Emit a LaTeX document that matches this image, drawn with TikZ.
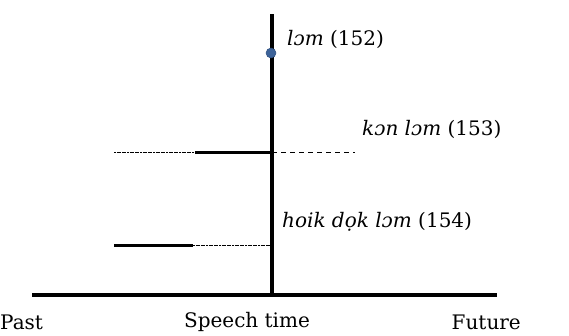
\documentclass[tikz,border=0pt]{standalone}
\usepackage{fontspec}
\setmainfont{DejaVu Serif}[ItalicFont={DejaVu Serif Italic}]
\begin{document}
\begin{tikzpicture}[x=1pt,y=-1pt,
  axis/.style={line width=4.5pt},
  interval/.style={line width=3pt},
  finedash/.style={line width=0.9pt, dash pattern=on 2pt off 0.6pt},
  coarsedash/.style={line width=0.9pt, dash pattern=on 5pt off 4pt},
  lbl/.style={font=\fontsize{20}{24}\selectfont, inner sep=0pt},
  ptdot/.style={circle, draw={rgb,255:red,47;green,80;blue,128}, line width=0.5pt, minimum size=10pt, inner sep=0pt}]
\useasboundingbox (0,0) rectangle (569,335);
% time axis and speech-time line
\coordinate (axL) at (32,295);
\coordinate (axR) at (497,295);
\coordinate (now) at (272,295);
\coordinate (top) at (272,14);
\draw[axis] (axL) -- (axR);
\draw[axis] (now) -- (top);
% point event
\node[ptdot, fill={rgb,255:red,61;green,99;blue,153}] (p152) at (271,53) {};
\node[lbl, anchor=west] (t152) at (287,39) {\textit{lɔm} (152)};
% kɔn lɔm
\coordinate (a1) at (114,152);
\coordinate (a2) at (195,152);
\coordinate (a3) at (272,152);
\coordinate (a4) at (355,152);
\draw[finedash] (a1) -- (a2);
\draw[interval] (a2) -- (a3);
\draw[coarsedash] (a3) -- (a4);
\node[lbl, anchor=west] (t153) at (362,129) {\textit{kɔn lɔm} (153)};
% hoik dọk lɔm
\coordinate (b1) at (114,245);
\coordinate (b2) at (193,245);
\coordinate (b3) at (272,245);
\draw[interval] (b1) -- (b2);
\draw[finedash] (b2) -- (b3);
\node[lbl, anchor=west] (t154) at (282,222) {\textit{hoik dọk lɔm} (154)};
% axis labels
\node[lbl, anchor=west] (past) at (0,322) {Past};
\node[lbl] (speech) at (247,322) {Speech time};
\node[lbl, anchor=east] (future) at (521,322) {Future};
\end{tikzpicture}
\end{document}
